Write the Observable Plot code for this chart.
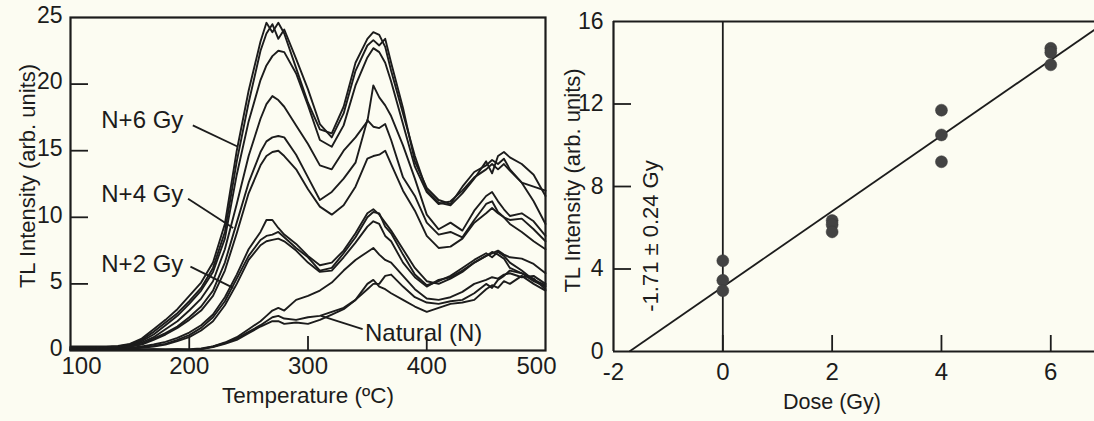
<!DOCTYPE html>
<html><head><meta charset="utf-8">
<script src="https://cdn.jsdelivr.net/npm/d3@7"></script>
<script src="https://cdn.jsdelivr.net/npm/@observablehq/plot@0.6"></script>
<style>
html,body{margin:0;padding:0;background:#fcfcf2;}
#row{display:flex;width:1094px;height:421px;overflow:hidden;background:#fcfcf2;}
#row svg{font-family:"Liberation Sans",Arial,Helvetica,sans-serif;flex:none;}
</style></head><body><div id="row"></div>
<script>
// ---------- Left panel: TL glow curves ----------
const temps = [100,110,120,130,140,150,160,170,180,190,200,210,220,230,240,250,260,265,270,275,280,290,300,310,320,330,340,350,355,360,365,370,380,390,400,410,420,430,440,450,455,460,465,470,480,490,500];
const n6a = [0.3,0.3,0.3,0.3,0.35,0.5,0.9,1.6,2.3,3.1,4.1,5.1,6.6,9.5,15.0,19.5,23.2,24.6,23.9,24.6,23.8,21.2,18.6,16.6,16.3,18.3,21.6,23.4,23.9,23.7,22.8,21.0,17.8,14.6,12.0,11.1,10.9,11.8,12.9,14.2,13.3,14.6,14.9,14.5,14.0,13.2,11.6];
const n6b = [0.25,0.25,0.2,0.25,0.3,0.45,0.8,1.4,2.1,2.8,3.7,4.7,6.2,8.9,14.2,18.6,22.5,23.8,24.5,23.4,24.1,21.9,19.6,17.0,16.0,17.8,21.0,22.9,23.3,22.9,23.4,21.6,18.2,14.2,12.2,11.3,11.0,12.3,13.4,13.9,14.3,14.0,14.4,13.6,12.6,11.2,9.5];
const n6c = [0.2,0.2,0.2,0.2,0.25,0.4,0.7,1.2,1.9,2.6,3.5,4.5,5.9,8.4,13.2,17.2,20.3,21.4,22.1,22.5,22.4,20.8,18.4,15.8,15.3,16.9,19.9,22.0,22.7,22.4,21.6,20.2,17.0,13.8,11.9,11.0,11.2,12.0,13.0,13.6,14.0,13.6,14.0,13.5,12.6,12.3,12.0];
const n4a = [0.2,0.2,0.15,0.2,0.25,0.35,0.6,1.0,1.6,2.2,3.0,3.9,5.2,7.6,11.0,14.6,17.4,18.5,19.1,18.8,18.3,16.9,15.5,13.9,13.6,15.0,16.0,17.2,19.9,19.0,18.4,17.6,15.4,12.9,10.2,9.1,9.6,9.0,10.5,11.6,11.9,11.2,10.6,10.1,10.3,9.7,8.6];
const n4b = [0.15,0.2,0.15,0.2,0.2,0.3,0.5,0.9,1.3,1.8,2.5,3.3,4.5,6.6,9.6,12.6,14.9,15.7,16.0,16.1,16.0,14.7,13.0,11.3,11.9,12.9,14.1,17.3,16.8,16.7,17.0,15.8,13.0,11.6,9.6,8.7,8.9,8.5,9.8,11.0,11.2,10.4,10.0,9.5,8.9,8.2,7.6];
const n4c = [0.1,0.15,0.1,0.15,0.2,0.3,0.45,0.8,1.2,1.7,2.3,3.0,4.1,6.0,8.8,11.8,13.9,14.6,14.9,15.0,14.6,13.6,12.1,10.8,10.2,10.9,12.3,14.4,14.6,14.7,15.0,14.0,12.0,10.5,8.6,7.7,7.8,8.4,9.6,10.3,10.7,10.3,10.0,9.8,9.9,9.1,8.2];
const n2a = [0.1,0.1,0.1,0.1,0.15,0.2,0.3,0.45,0.65,0.95,1.35,1.9,2.7,4.0,5.7,7.6,8.9,9.8,9.8,9.2,8.7,8.0,7.1,6.4,6.6,7.5,8.8,10.3,10.6,10.2,9.6,9.0,7.6,6.2,5.2,5.0,5.4,5.9,6.6,7.1,7.3,7.5,7.2,7.0,6.9,6.5,5.8];
const n2b = [0.1,0.1,0.1,0.1,0.1,0.15,0.25,0.35,0.5,0.8,1.15,1.7,2.5,3.7,5.4,7.1,8.3,8.6,8.7,8.9,8.5,7.7,7.0,6.0,6.2,7.3,8.5,10.0,10.4,10.3,9.3,8.8,7.2,5.7,4.9,5.2,5.6,6.2,6.8,7.3,7.0,7.4,7.1,6.6,6.0,5.3,4.9];
const n2c = [0.05,0.1,0.05,0.1,0.1,0.15,0.2,0.3,0.45,0.7,1.0,1.5,2.2,3.4,5.0,6.8,7.9,8.2,8.3,8.4,8.2,7.5,6.6,5.9,6.0,7.0,8.1,9.3,9.7,9.5,8.6,8.2,6.6,5.5,4.8,5.3,5.5,6.0,6.6,7.1,7.4,7.2,6.9,6.2,5.8,5.4,4.6];
const nat1 = [0.05,0.05,0.05,0.05,0.05,0.05,0.05,0.05,0.05,0.05,0.05,0.1,0.3,0.6,1.0,1.6,2.2,2.6,3.0,3.2,3.0,3.8,4.1,4.5,5.1,6.0,6.8,7.4,7.7,7.2,6.8,6.6,5.6,4.6,3.9,3.8,4.0,4.4,5.0,5.3,5.5,5.4,5.7,5.8,5.5,5.6,5.0];
const nat2 = [0.1,0.1,0.1,0.1,0.1,0.1,0.1,0.1,0.1,0.1,0.1,0.15,0.3,0.55,0.9,1.4,1.9,2.2,2.5,2.6,2.4,2.3,2.5,2.6,2.9,3.2,3.8,4.6,5.0,5.0,5.6,5.7,4.8,4.0,3.6,3.5,3.7,3.8,4.3,5.0,4.7,5.3,5.6,6.0,5.8,5.2,4.8];
const nat3 = [0.05,0.1,0.05,0.1,0.05,0.1,0.05,0.1,0.05,0.1,0.05,0.1,0.25,0.5,0.8,1.3,1.8,2.0,2.2,2.2,2.0,2.1,2.0,2.3,2.7,3.1,3.8,5.0,5.3,4.8,4.6,4.3,3.8,3.3,2.9,3.2,3.5,3.6,3.8,4.6,4.9,4.7,5.2,5.0,5.6,5.0,4.5];
const curves = {n6a, n6b, n6c, n4a, n4b, n4c, n2a, n2b, n2c, nat1, nat2, nat3};

const tempTicks = [100, 200, 300, 400, 500];
const tempInnerTicks = [200, 300, 400];
const tlTicks = [0, 5, 10, 15, 20, 25];
const tlInnerTicks = [5, 10, 15, 20];
const curveLabels = [
  {label: "N+6 Gy", tx: 195, ty: 17.3, x1: 203, y1: 16.9, x2: 241, y2: 15.3, side: "end"},
  {label: "N+4 Gy", tx: 195, ty: 11.7, x1: 199, y1: 11.4, x2: 237, y2: 9.2, side: "end"},
  {label: "N+2 Gy", tx: 195, ty: 6.5, x1: 201, y1: 6.3, x2: 237, y2: 4.7, side: "end"},
  {label: "Natural (N)", tx: 348, ty: 1.3, x1: 346, y1: 1.6, x2: 311, y2: 2.6, side: "start"}
];

// ---------- Right panel: dose response ----------
const doses = [0, 0, 0, 2, 2, 2, 4, 4, 4, 6, 6, 6];
const tlValues = [4.4, 3.45, 2.95, 6.35, 6.15, 5.8, 11.7, 10.5, 9.2, 14.7, 14.5, 13.9];
const doseTicks = [-2, 0, 2, 4, 6];
const doseInnerTicks = [0, 2, 4, 6];
const tlTicksR = [0, 4, 8, 12, 16];
const tlInnerTicksR = [4, 8, 12];
const edText = [{label: "-1.71 \u00b1 0.24 Gy", x: -1.32, y: 5.6}];

// ---------- build ----------
const ink = "#1c1c1c", bg = "#fcfcf2";
const fam = '"Liberation Sans", Arial, Helvetica, sans-serif';
const fmt = d => String(d);
const glow = [];
for (const [id, arr] of Object.entries(curves)) arr.forEach((v, i) => glow.push({id, t: temps[i], v}));

const tFirst = tempTicks.slice(0, 1), tMid = tempTicks.slice(1, -1), tLast = tempTicks.slice(-1);
const xAxisOpts = {tickSize: 0, tickPadding: 6, fontSize: 24, label: null, tickFormat: fmt};

const L = {w: 560, h: 421, mt: 17, mb: 71, ml: 70, mr: 15};
const Lih = L.h - L.mt - L.mb, Liw = L.w - L.ml - L.mr;
const left = Plot.plot({
  width: L.w, height: L.h, marginTop: L.mt, marginBottom: L.mb, marginLeft: L.ml, marginRight: L.mr,
  style: {background: bg, color: ink, fontFamily: fam, overflow: "visible"},
  x: {domain: [100, 500], label: null},
  y: {domain: [0, 25], label: null},
  marks: [
    Plot.line(glow, {x: "t", y: "v", z: "id", stroke: ink, strokeWidth: 1.9, strokeLinejoin: "round"}),
    Plot.frame({stroke: ink, strokeWidth: 2.2}),
    Plot.tickX(tempInnerTicks, {x: d => d, stroke: ink, strokeWidth: 1.8, insetTop: Lih - 14}),
    Plot.tickY(tlInnerTicks, {y: d => d, stroke: ink, strokeWidth: 1.8, insetRight: Liw - 18}),
    Plot.axisX(tFirst, {...xAxisOpts, dx: 11}),
    Plot.axisX(tMid, xAxisOpts),
    Plot.axisX(tLast, {...xAxisOpts, dx: -9}),
    Plot.axisY(tlTicks, {tickSize: 0, tickPadding: 8, fontSize: 23, dy: -2, label: null, tickFormat: fmt}),
    Plot.text(["Temperature (\u00baC)"], {frameAnchor: "bottom", dy: 52, fontSize: 22.5, fill: ink}),
    Plot.text(["TL Intensity (arb. units)"], {frameAnchor: "left", textAnchor: "middle", dx: -43, dy: -8, rotate: -90, fontSize: 22, fill: ink}),
    Plot.link(curveLabels, {x1: "x1", y1: "y1", x2: "x2", y2: "y2", stroke: ink, strokeWidth: 1.8}),
    Plot.text(curveLabels.filter(d => d.side === "end"), {x: "tx", y: "ty", text: "label", textAnchor: "end", fontSize: 24, fill: ink}),
    Plot.text(curveLabels.filter(d => d.side === "start"), {x: "tx", y: "ty", text: "label", textAnchor: "start", fontSize: 24, fill: ink})
  ]
});

// least squares fit of the dose points
const mx = d3.mean(doses), my = d3.mean(tlValues);
const slope = d3.sum(doses, (x, i) => (x - mx) * (tlValues[i] - my)) / d3.sum(doses, x => (x - mx) ** 2);
const intercept = my - slope * mx;
const xDomR = [-2, 6.8], yDomR = [0, 16];
const fit = [{x1: -intercept / slope, y1: 0, x2: xDomR[1], y2: intercept + slope * xDomR[1]}];
const pts = doses.map((d, i) => ({d, v: tlValues[i]}));

const R = {w: 534, h: 421, mt: 21, mb: 70, ml: 53, mr: 0};
const Rih = R.h - R.mt - R.mb, Riw = R.w - R.ml - R.mr;
const right = Plot.plot({
  width: R.w, height: R.h, marginTop: R.mt, marginBottom: R.mb, marginLeft: R.ml, marginRight: R.mr,
  style: {background: "transparent", color: ink, fontFamily: fam},
  x: {domain: xDomR, label: null},
  y: {domain: yDomR, label: null},
  marks: [
    Plot.ruleY([yDomR[1]], {stroke: ink, strokeWidth: 2.2}),
    Plot.ruleY([yDomR[0]], {stroke: ink, strokeWidth: 2.2}),
    Plot.ruleX([xDomR[0]], {stroke: ink, strokeWidth: 2.2}),
    Plot.ruleX([0], {stroke: ink, strokeWidth: 1.8}),
    Plot.link(fit, {x1: "x1", y1: "y1", x2: "x2", y2: "y2", stroke: ink, strokeWidth: 1.8}),
    Plot.dot(pts, {x: "d", y: "v", r: 6, fill: "#434343", stroke: "#3a3a3a", strokeWidth: 0.5}),
    Plot.tickX(doseInnerTicks, {x: d => d, stroke: ink, strokeWidth: 1.8, insetTop: Rih - 16}),
    Plot.tickY(tlInnerTicksR, {y: d => d, stroke: ink, strokeWidth: 1.8, insetRight: Riw - 18}),
    Plot.axisX(doseTicks, {tickSize: 0, tickPadding: 11, fontSize: 24, label: null, tickFormat: fmt}),
    Plot.axisY(tlTicksR, {tickSize: 0, tickPadding: 10, fontSize: 23, label: null, tickFormat: fmt}),
    Plot.text(["Dose (Gy)"], {frameAnchor: "bottom", dx: -22, dy: 57, fontSize: 21.5, fill: ink}),
    Plot.text(["TL Intensity (arb. units)"], {frameAnchor: "left", textAnchor: "middle", dx: -41, dy: -6, rotate: -90, fontSize: 22, fill: ink}),
    Plot.text(edText, {x: "x", y: "y", text: "label", rotate: -90, fontSize: 22, fill: ink})
  ]
});

const row = document.getElementById("row");
row.appendChild(left);
row.appendChild(right);
</script></body></html>
